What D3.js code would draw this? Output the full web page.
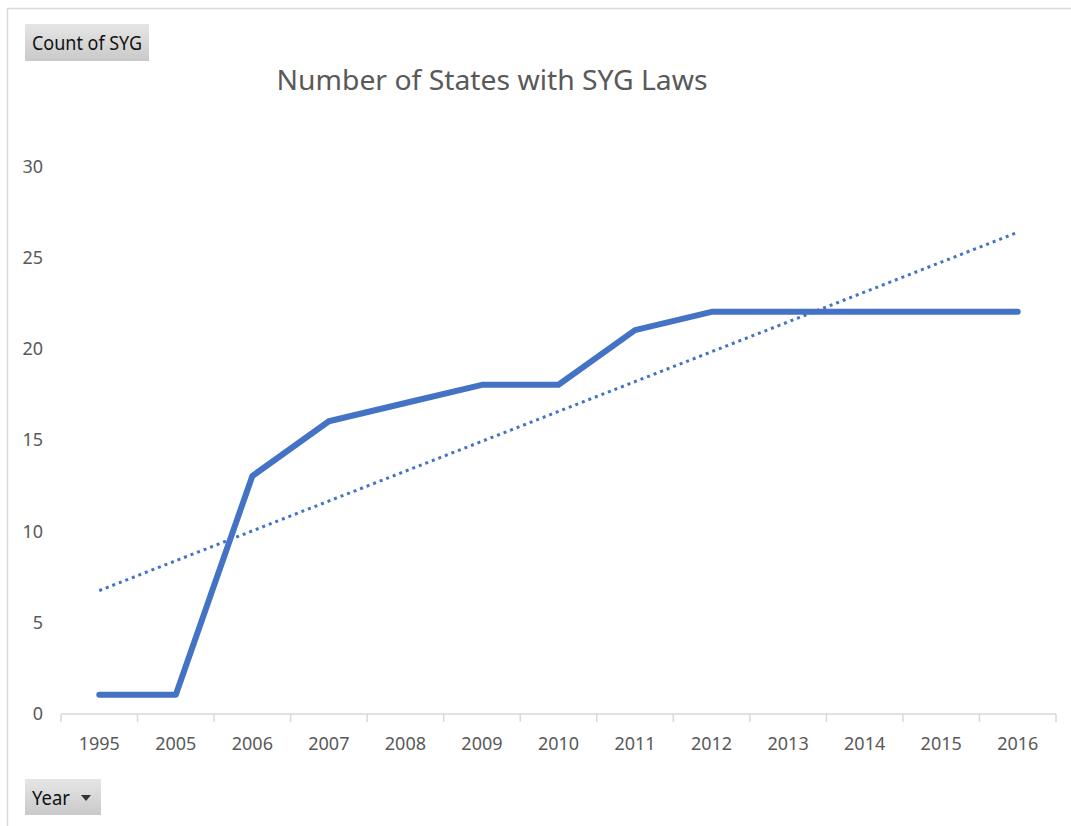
<!DOCTYPE html>
<html>
<head>
<meta charset="utf-8">
<script src="https://cdn.jsdelivr.net/npm/d3@7"></script>
<style>
  html, body { margin: 0; padding: 0; background: #fff; }
  svg { display: block; font-family: "Noto Sans", "Open Sans", sans-serif; }
</style>
</head>
<body>
<svg id="chart" width="1071" height="826"></svg>
<script>
// Count of states with Stand Your Ground laws, by year
const years = ["1995", "2005", "2006", "2007", "2008", "2009", "2010", "2011", "2012", "2013", "2014", "2015", "2016"];
const counts = [1, 1, 13, 16, 17, 18, 18, 21, 22, 22, 22, 22, 22];
const yTicks = [0, 5, 10, 15, 20, 25, 30];

const titleText = "Number of States with SYG Laws";
const valueFieldLabel = "Count of SYG";
const axisFieldLabel = "Year";

const W = 1071, H = 826;
const margin = { left: 61, right: 15, top: 166, bottom: 113 };
const svg = d3.select("#chart");

// chart-area frame (top and left edges)
svg.append("path")
  .attr("d", `M7.5,${H} V8.5 H${W}`)
  .attr("fill", "none")
  .attr("stroke", "#d9d9d9")
  .attr("stroke-width", 1.5);

const x = d3.scaleBand().domain(years).range([margin.left, W - margin.right]);
const y = d3.scaleLinear().domain([0, 30]).range([H - margin.bottom, margin.top]);

// gradient for the pivot field buttons
const defs = svg.append("defs");
const grad = defs.append("linearGradient").attr("id", "btn").attr("x1", 0).attr("y1", 0).attr("x2", 0).attr("y2", 1);
grad.append("stop").attr("offset", "0%").attr("stop-color", "#e6e6e6");
grad.append("stop").attr("offset", "100%").attr("stop-color", "#c9c9c9");

// title
svg.append("text")
  .attr("x", 492).attr("y", 90)
  .attr("text-anchor", "middle")
  .attr("font-size", 27)
  .attr("fill", "#595959")
  .attr("textLength", 431)
  .attr("lengthAdjust", "spacingAndGlyphs")
  .text(titleText);

// y-axis labels (no axis line)
const yAxis = d3.axisLeft(y).tickValues(yTicks).tickSize(0).tickPadding(0);
const gy = svg.append("g").attr("transform", "translate(43,0)").call(yAxis);
gy.select(".domain").remove();
gy.selectAll("text").attr("font-size", 18).attr("fill", "#595959")
  .attr("font-family", "'Noto Sans', sans-serif").attr("dy", "0.36em");

// x-axis with category boundary ticks
const xBase = y(0) + 1;
const gx = svg.append("g").attr("transform", `translate(0,${xBase})`);
gx.append("line")
  .attr("x1", x.range()[0]).attr("x2", x.range()[1])
  .attr("stroke", "#d9d9d9").attr("stroke-width", 1.5);
const bounds = years.map(d => x(d)).concat([x.range()[1]]);
gx.selectAll("line.tick").data(bounds).join("line")
  .attr("class", "tick")
  .attr("x1", d => d).attr("x2", d => d)
  .attr("y1", 0).attr("y2", 8)
  .attr("stroke", "#d9d9d9").attr("stroke-width", 1.5);
gx.selectAll("text").data(years).join("text")
  .attr("x", d => x(d) + x.bandwidth() / 2)
  .attr("y", 30)
  .attr("text-anchor", "middle")
  .attr("dy", "0.36em")
  .attr("font-size", 18)
  .attr("fill", "#595959")
  .text(d => d);

// linear trendline (least squares over category index)
const n = counts.length;
const idx = d3.range(1, n + 1);
const mx = d3.mean(idx), my = d3.mean(counts);
const slope = d3.sum(idx, (v, i) => (v - mx) * (counts[i] - my)) / d3.sum(idx, v => (v - mx) ** 2);
const intercept = my - slope * mx;
const cx = d => x(d) + x.bandwidth() / 2;

svg.append("line")
  .attr("x1", cx(years[0])).attr("y1", y(intercept + slope * 1))
  .attr("x2", cx(years[n - 1])).attr("y2", y(intercept + slope * n))
  .attr("stroke", "#4472c4")
  .attr("stroke-width", 3)
  .attr("stroke-dasharray", "3 4");

// data line
const line = d3.line().x((d, i) => cx(years[i])).y(d => y(d));
svg.append("path")
  .datum(counts)
  .attr("d", line)
  .attr("fill", "none")
  .attr("stroke", "#4472c4")
  .attr("stroke-width", 6)
  .attr("stroke-linejoin", "round")
  .attr("stroke-linecap", "round");

// pivot field buttons
const b1 = svg.append("g");
b1.append("rect").attr("x", 25).attr("y", 24).attr("width", 124).attr("height", 37).attr("fill", "url(#btn)");
b1.append("text").attr("x", 87).attr("y", 50).attr("text-anchor", "middle")
  .attr("font-size", 19).attr("fill", "#111")
  .attr("textLength", 110).attr("lengthAdjust", "spacingAndGlyphs")
  .text(valueFieldLabel);

const b2 = svg.append("g");
b2.append("rect").attr("x", 25).attr("y", 779).attr("width", 76).attr("height", 36).attr("fill", "url(#btn)");
b2.append("text").attr("x", 32).attr("y", 805)
  .attr("font-size", 19).attr("fill", "#111")
  .attr("textLength", 38).attr("lengthAdjust", "spacingAndGlyphs")
  .text(axisFieldLabel);
b2.append("path").attr("d", "M81,795 L91,795 L86,801 Z").attr("fill", "#333");
</script>
</body>
</html>
